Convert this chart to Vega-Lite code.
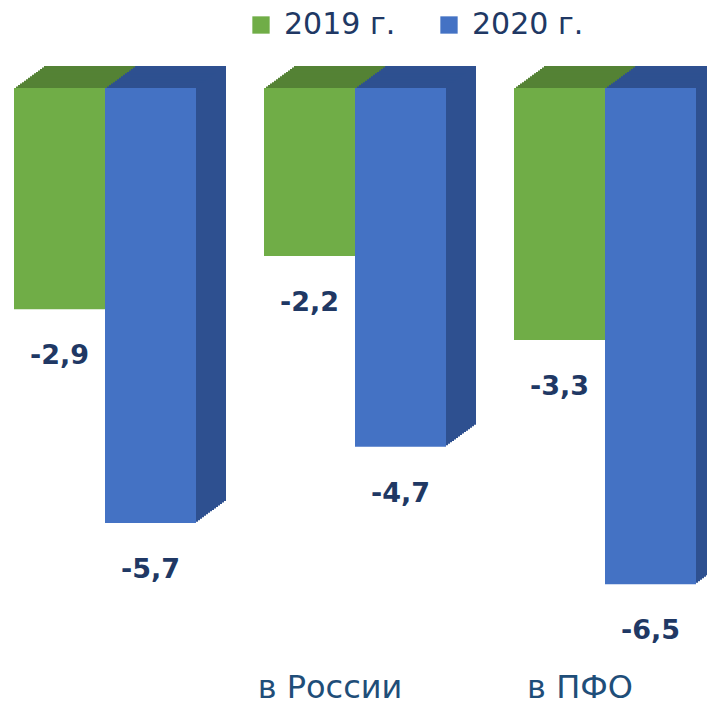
{
  "$schema": "https://vega.github.io/schema/vega-lite/v6.json",
  "width": 707,
  "height": 704,
  "autosize": "none",
  "padding": 0,
  "background": "white",
  "config": {
    "view": {"stroke": null},
    "locale": {"number": {"decimal": ",", "thousands": " ", "grouping": [3], "currency": ["", ""], "minus": "-"}},
    "font": "DejaVu Sans"
  },
  "data": {
    "values": [
      {"group": " ", "year": "2019 г.", "value": -2.9},
      {"group": " ", "year": "2020 г.", "value": -5.7},
      {"group": "в России", "year": "2019 г.", "value": -2.2},
      {"group": "в России", "year": "2020 г.", "value": -4.7},
      {"group": "в ПФО", "year": "2019 г.", "value": -3.3},
      {"group": "в ПФО", "year": "2020 г.", "value": -6.5}
    ]
  },
  "resolve": {"scale": {"x": "independent"}},
  "encoding": {
    "y": {"field": "value", "type": "quantitative", "axis": null, "scale": {"domain": [-8.07, 1.153], "nice": false, "zero": false}},
    "xOffset": {"field": "year", "type": "nominal", "sort": null, "scale": {"paddingInner": 0, "paddingOuter": 0}}
  },
  "layer": [
    {"mark": {"type": "bar", "yOffset": -22, "y2Offset": -22}, "encoding": {"x": {"field": "group", "type": "nominal", "sort": null, "axis": null, "scale": {"range": [30, 737], "paddingInner": 0.272, "paddingOuter": 0.05, "align": 0.56}}, "fill": {"field": "year", "type": "nominal", "legend": null, "scale": {"range": ["#548235", "#2E5090"]}}}},
    {"mark": {"type": "bar", "yOffset": -20.533, "y2Offset": -20.533}, "encoding": {"x": {"field": "group", "type": "nominal", "sort": null, "axis": null, "scale": {"range": [28, 735], "paddingInner": 0.272, "paddingOuter": 0.05, "align": 0.56}}, "fill": {"field": "year", "type": "nominal", "legend": null, "scale": {"range": ["#548235", "#2E5090"]}}}},
    {"mark": {"type": "bar", "yOffset": -19.067, "y2Offset": -19.067}, "encoding": {"x": {"field": "group", "type": "nominal", "sort": null, "axis": null, "scale": {"range": [26, 733], "paddingInner": 0.272, "paddingOuter": 0.05, "align": 0.56}}, "fill": {"field": "year", "type": "nominal", "legend": null, "scale": {"range": ["#548235", "#2E5090"]}}}},
    {"mark": {"type": "bar", "yOffset": -17.6, "y2Offset": -17.6}, "encoding": {"x": {"field": "group", "type": "nominal", "sort": null, "axis": null, "scale": {"range": [24, 731], "paddingInner": 0.272, "paddingOuter": 0.05, "align": 0.56}}, "fill": {"field": "year", "type": "nominal", "legend": null, "scale": {"range": ["#548235", "#2E5090"]}}}},
    {"mark": {"type": "bar", "yOffset": -16.133, "y2Offset": -16.133}, "encoding": {"x": {"field": "group", "type": "nominal", "sort": null, "axis": null, "scale": {"range": [22, 729], "paddingInner": 0.272, "paddingOuter": 0.05, "align": 0.56}}, "fill": {"field": "year", "type": "nominal", "legend": null, "scale": {"range": ["#548235", "#2E5090"]}}}},
    {"mark": {"type": "bar", "yOffset": -14.667, "y2Offset": -14.667}, "encoding": {"x": {"field": "group", "type": "nominal", "sort": null, "axis": null, "scale": {"range": [20, 727], "paddingInner": 0.272, "paddingOuter": 0.05, "align": 0.56}}, "fill": {"field": "year", "type": "nominal", "legend": null, "scale": {"range": ["#548235", "#2E5090"]}}}},
    {"mark": {"type": "bar", "yOffset": -13.2, "y2Offset": -13.2}, "encoding": {"x": {"field": "group", "type": "nominal", "sort": null, "axis": null, "scale": {"range": [18, 725], "paddingInner": 0.272, "paddingOuter": 0.05, "align": 0.56}}, "fill": {"field": "year", "type": "nominal", "legend": null, "scale": {"range": ["#548235", "#2E5090"]}}}},
    {"mark": {"type": "bar", "yOffset": -11.733, "y2Offset": -11.733}, "encoding": {"x": {"field": "group", "type": "nominal", "sort": null, "axis": null, "scale": {"range": [16, 723], "paddingInner": 0.272, "paddingOuter": 0.05, "align": 0.56}}, "fill": {"field": "year", "type": "nominal", "legend": null, "scale": {"range": ["#548235", "#2E5090"]}}}},
    {"mark": {"type": "bar", "yOffset": -10.267, "y2Offset": -10.267}, "encoding": {"x": {"field": "group", "type": "nominal", "sort": null, "axis": null, "scale": {"range": [14, 721], "paddingInner": 0.272, "paddingOuter": 0.05, "align": 0.56}}, "fill": {"field": "year", "type": "nominal", "legend": null, "scale": {"range": ["#548235", "#2E5090"]}}}},
    {"mark": {"type": "bar", "yOffset": -8.8, "y2Offset": -8.8}, "encoding": {"x": {"field": "group", "type": "nominal", "sort": null, "axis": null, "scale": {"range": [12, 719], "paddingInner": 0.272, "paddingOuter": 0.05, "align": 0.56}}, "fill": {"field": "year", "type": "nominal", "legend": null, "scale": {"range": ["#548235", "#2E5090"]}}}},
    {"mark": {"type": "bar", "yOffset": -7.333, "y2Offset": -7.333}, "encoding": {"x": {"field": "group", "type": "nominal", "sort": null, "axis": null, "scale": {"range": [10, 717], "paddingInner": 0.272, "paddingOuter": 0.05, "align": 0.56}}, "fill": {"field": "year", "type": "nominal", "legend": null, "scale": {"range": ["#548235", "#2E5090"]}}}},
    {"mark": {"type": "bar", "yOffset": -5.867, "y2Offset": -5.867}, "encoding": {"x": {"field": "group", "type": "nominal", "sort": null, "axis": null, "scale": {"range": [8, 715], "paddingInner": 0.272, "paddingOuter": 0.05, "align": 0.56}}, "fill": {"field": "year", "type": "nominal", "legend": null, "scale": {"range": ["#548235", "#2E5090"]}}}},
    {"mark": {"type": "bar", "yOffset": -4.4, "y2Offset": -4.4}, "encoding": {"x": {"field": "group", "type": "nominal", "sort": null, "axis": null, "scale": {"range": [6, 713], "paddingInner": 0.272, "paddingOuter": 0.05, "align": 0.56}}, "fill": {"field": "year", "type": "nominal", "legend": null, "scale": {"range": ["#548235", "#2E5090"]}}}},
    {"mark": {"type": "bar", "yOffset": -2.933, "y2Offset": -2.933}, "encoding": {"x": {"field": "group", "type": "nominal", "sort": null, "axis": null, "scale": {"range": [4, 711], "paddingInner": 0.272, "paddingOuter": 0.05, "align": 0.56}}, "fill": {"field": "year", "type": "nominal", "legend": null, "scale": {"range": ["#548235", "#2E5090"]}}}},
    {"mark": {"type": "bar", "yOffset": -1.467, "y2Offset": -1.467}, "encoding": {"x": {"field": "group", "type": "nominal", "sort": null, "axis": null, "scale": {"range": [2, 709], "paddingInner": 0.272, "paddingOuter": 0.05, "align": 0.56}}, "fill": {"field": "year", "type": "nominal", "legend": null, "scale": {"range": ["#548235", "#2E5090"]}}}},
    {
      "mark": {"type": "bar"},
      "encoding": {
        "x": {"field": "group", "type": "nominal", "sort": null, "title": null,
          "scale": {"range": [0, 707], "paddingInner": 0.272, "paddingOuter": 0.05, "align": 0.56},
          "axis": {"orient": "bottom", "offset": -32, "domain": false, "ticks": false, "labelPadding": 0, "labelAngle": 0, "labelOffset": -25, "labelFontSize": 32, "labelColor": "#1F4E79", "labelFont": "DejaVu Sans", "labelBaseline": "top"}},
        "color": {"field": "year", "type": "nominal", "sort": null,
          "scale": {"range": ["#70AD47", "#4472C4"]},
          "legend": {"title": null, "orient": "none", "direction": "horizontal", "legendX": 246, "legendY": 10, "symbolType": "square", "symbolSize": 300, "symbolStrokeWidth": 0, "labelFontSize": 30, "labelColor": "#203864", "labelFont": "DejaVu Sans", "columnPadding": 38, "labelOffset": 8}}
      }
    },
    {
      "mark": {"type": "text", "dy": 47, "fontSize": 27, "fontWeight": "bold", "font": "DejaVu Sans", "color": "#203864", "baseline": "middle"},
      "encoding": {
        "x": {"field": "group", "type": "nominal", "sort": null, "axis": null, "scale": {"range": [0, 707], "paddingInner": 0.272, "paddingOuter": 0.05, "align": 0.56}},
        "text": {"field": "value", "type": "quantitative", "format": ".1f"}
      }
    }
  ]
}
